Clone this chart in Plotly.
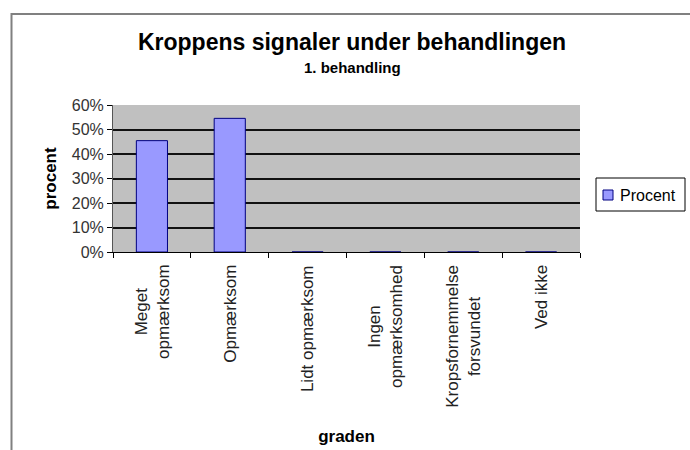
import plotly.graph_objects as go

# ---- data ----
categories = [
    "Meget<br>opmærksom",
    "Opmærksom",
    "Lidt opmærksom",
    "Ingen<br>opmærksomhed",
    "Kropsfornemmelse<br>forsvundet",
    "Ved ikke",
]
values = [0.4545, 0.5455, 0, 0, 0, 0]
series_name = "Procent"
y_tick_values = [0, 0.1, 0.2, 0.3, 0.4, 0.5, 0.6]
title_text = "Kroppens signaler under behandlingen"
subtitle_text = "1. behandling"
x_title = "graden"
y_title = "procent"

# ---- layout constants (pixels) ----
W, H = 690, 450
L, R, T, B = 113, 110, 105, 198
plot_w = W - L - R
plot_h = H - T - B
FONT = "Liberation Sans, Arial, sans-serif"
BAR_COLOR = "#9999FF"
BAR_LINE = "#000080"


def px_x(p):
    return (p - L) / plot_w


def px_y(p):
    return (H - B - p) / plot_h


fig = go.Figure()
fig.add_trace(go.Bar(
    x=categories,
    y=values,
    name=series_name,
    marker=dict(color=BAR_COLOR, line=dict(color=BAR_LINE, width=1)),
    showlegend=False,
))

annotations = []
# category labels, lines centred on each other
for c in categories:
    annotations.append(dict(
        x=c, y=0, xref="x", yref="paper",
        text=c, textangle=-90, showarrow=False,
        xanchor="center", yanchor="top", align="center",
        yshift=-11,
        font=dict(family=FONT, size=17, color="#222222"),
    ))
# subtitle
annotations.append(dict(
    x=px_x(352), y=px_y(67), xref="paper", yref="paper",
    text="<b>" + subtitle_text + "</b>", showarrow=False,
    xanchor="center", yanchor="middle",
    font=dict(family=FONT, size=15, color="#000000"),
))
# legend text
annotations.append(dict(
    x=px_x(618), y=px_y(195), xref="paper", yref="paper",
    text=series_name, showarrow=False,
    xanchor="left", yanchor="middle",
    font=dict(family=FONT, size=16, color="#000000"),
))

shapes = [
    # chart-area border
    dict(type="rect", xref="paper", yref="paper",
         x0=px_x(11.5), x1=px_x(720), y0=px_y(480), y1=px_y(14),
         line=dict(color="#808080", width=2), fillcolor="rgba(0,0,0,0)",
         layer="below"),
    # legend box
    dict(type="rect", xref="paper", yref="paper",
         x0=px_x(596), x1=px_x(685), y0=px_y(211), y1=px_y(178),
         line=dict(color="#000000", width=1), fillcolor="white"),
    # legend swatch
    dict(type="rect", xref="paper", yref="paper",
         x0=px_x(603), x1=px_x(613), y0=px_y(200), y1=px_y(190),
         line=dict(color=BAR_LINE, width=1), fillcolor=BAR_COLOR),
]

fig.update_layout(
    width=W, height=H,
    margin=dict(l=L, r=R, t=T, b=B, pad=0, autoexpand=False),
    paper_bgcolor="white",
    plot_bgcolor="#C0C0C0",
    bargap=0.6,
    title=dict(
        text="<b>" + title_text + "</b>",
        x=352 / W, xanchor="center", xref="container",
        y=1 - 42 / H, yanchor="middle", yref="container",
        font=dict(family=FONT, size=23, color="#000000"),
    ),
    xaxis=dict(
        type="category",
        showticklabels=False,
        ticks="outside", ticklen=5, tickcolor="#000000",
        tickson="boundaries",
        showline=True, linecolor="#000000", linewidth=1,
        showgrid=False,
        automargin=False,
        title=dict(text="<b>" + x_title + "</b>", standoff=178,
                   font=dict(family=FONT, size=17, color="#000000")),
    ),
    yaxis=dict(
        range=[0, 0.6],
        tickvals=y_tick_values,
        tickformat=".0%",
        ticks="outside", ticklen=5, tickcolor="#000000",
        showline=True, linecolor="#555555", linewidth=1,
        showgrid=True, gridcolor="#111111", gridwidth=1.5,
        zeroline=False,
        automargin=False,
        tickfont=dict(family=FONT, size=16, color="#333333"),
        title=dict(text="<b>" + y_title + "</b>", standoff=10,
                   font=dict(family=FONT, size=17, color="#000000")),
    ),
    annotations=annotations,
    shapes=shapes,
)

fig.write_html(
    "out.html",
    config={"displayModeBar": False},
    post_script="document.body.style.margin='0px';",
)
